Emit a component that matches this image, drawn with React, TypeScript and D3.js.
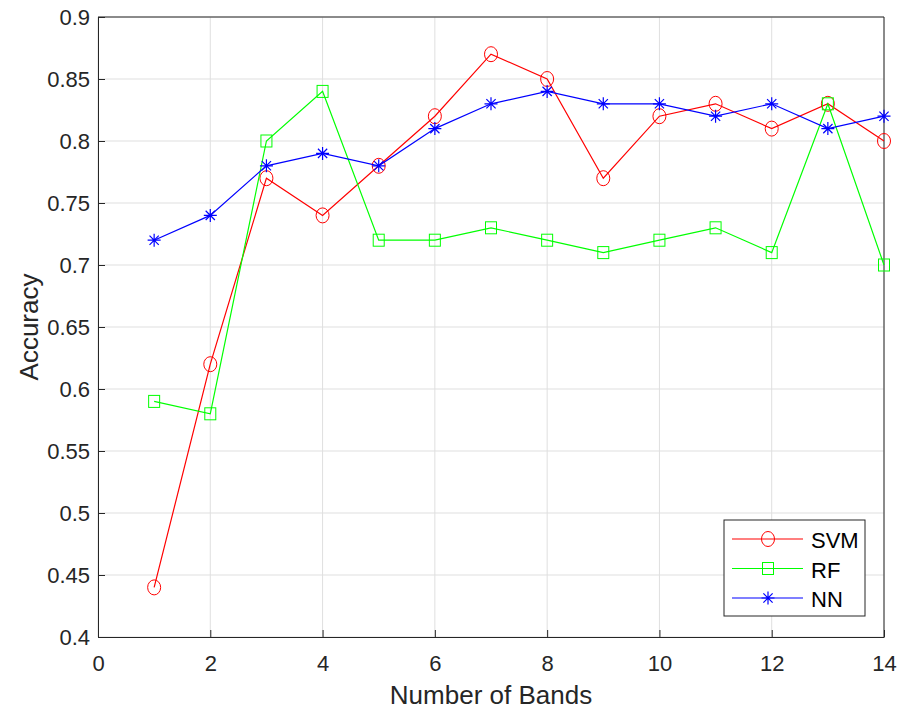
import React, { useRef, useEffect } from 'react';
import * as d3 from 'd3';

const bands = [1, 2, 3, 4, 5, 6, 7, 8, 9, 10, 11, 12, 13, 14];
const svmAcc = [0.44, 0.62, 0.77, 0.74, 0.78, 0.82, 0.87, 0.85, 0.77, 0.82, 0.83, 0.81, 0.83, 0.80];
const rfAcc = [0.59, 0.58, 0.80, 0.84, 0.72, 0.72, 0.73, 0.72, 0.71, 0.72, 0.73, 0.71, 0.83, 0.70];
const nnAcc = [0.72, 0.74, 0.78, 0.79, 0.78, 0.81, 0.83, 0.84, 0.83, 0.83, 0.82, 0.83, 0.81, 0.82];
const xTicks = [0, 2, 4, 6, 8, 10, 12, 14];
const yTicks = [0.4, 0.45, 0.5, 0.55, 0.6, 0.65, 0.7, 0.75, 0.8, 0.85, 0.9];

const series = [
  { name: 'SVM', values: svmAcc, color: '#ff0000', marker: 'circle' },
  { name: 'RF', values: rfAcc, color: '#00ff00', marker: 'square' },
  { name: 'NN', values: nnAcc, color: '#0000ff', marker: 'star' },
];

const W = 899;
const H = 709;
const font = '"Liberation Sans", Arial, sans-serif';

const drawMarker = (g, type, x, y, color) => {
  if (type === 'circle') {
    g.append('ellipse').attr('cx', x).attr('cy', y).attr('rx', 6.5).attr('ry', 7.5)
      .attr('fill', 'none').attr('stroke', color).attr('stroke-width', 1);
  } else if (type === 'square') {
    g.append('rect').attr('x', x - 5.5).attr('y', y - 6).attr('width', 11).attr('height', 12)
      .attr('fill', 'none').attr('stroke', color).attr('stroke-width', 1);
  } else {
    const s = 6.5;
    const d = s * 0.71;
    const p = `M${x - s},${y}L${x + s},${y}M${x},${y - s}L${x},${y + s}` +
      `M${x - d},${y - d}L${x + d},${y + d}M${x - d},${y + d}L${x + d},${y - d}`;
    g.append('path').attr('d', p).attr('stroke', color).attr('stroke-width', 1.2).attr('fill', 'none');
  }
};

const App = () => {
  const svgRef = useRef(null);

  useEffect(() => {
    const svg = d3.select(svgRef.current);
    svg.selectAll('*').remove();

    const margin = { top: 17, right: 15, bottom: 72, left: 98 };
    const innerW = W - margin.left - margin.right;
    const innerH = H - margin.top - margin.bottom;

    const x = d3.scaleLinear().domain([0, 14]).range([margin.left, margin.left + innerW]);
    const y = d3.scaleLinear().domain([0.4, 0.9]).range([margin.top + innerH, margin.top]);

    svg.append('rect').attr('width', W).attr('height', H).attr('fill', '#fff');

    // grid
    const grid = svg.append('g');
    xTicks.forEach((t) => {
      grid.append('line').attr('x1', x(t)).attr('x2', x(t))
        .attr('y1', y(0.4)).attr('y2', y(0.9)).attr('stroke', '#dfdfdf').attr('stroke-width', 1);
    });
    yTicks.forEach((t) => {
      grid.append('line').attr('x1', x(0)).attr('x2', x(14))
        .attr('y1', y(t)).attr('y2', y(t)).attr('stroke', '#dfdfdf').attr('stroke-width', 1);
    });

    // axes
    const axisColor = '#262626';
    const xAxis = svg.append('g').attr('transform', `translate(0,${y(0.4)})`)
      .call(d3.axisBottom(x).tickValues(xTicks).tickSizeInner(-7).tickSizeOuter(0).tickPadding(18));
    const yAxis = svg.append('g').attr('transform', `translate(${x(0)},0)`)
      .call(d3.axisLeft(y).tickValues(yTicks).tickFormat((d) => String(+d.toFixed(2)))
        .tickSizeInner(-7).tickSizeOuter(0).tickPadding(8));
    [xAxis, yAxis].forEach((a) => {
      a.select('.domain').attr('stroke', axisColor).attr('stroke-width', 1);
      a.selectAll('.tick line').attr('stroke', axisColor);
      a.selectAll('.tick text').attr('fill', axisColor).attr('font-family', font).attr('font-size', 22);
    });
    // top and right box lines
    svg.append('line').attr('x1', x(0)).attr('x2', x(14)).attr('y1', y(0.9)).attr('y2', y(0.9))
      .attr('stroke', axisColor);
    svg.append('line').attr('x1', x(14)).attr('x2', x(14)).attr('y1', y(0.9)).attr('y2', y(0.4))
      .attr('stroke', axisColor);

    // labels
    svg.append('text').attr('x', (x(0) + x(14)) / 2).attr('y', 704).attr('text-anchor', 'middle')
      .attr('font-family', font).attr('font-size', 26).attr('fill', axisColor).text('Number of Bands');
    svg.append('text').attr('transform', `translate(38,${(y(0.4) + y(0.9)) / 2}) rotate(-90)`)
      .attr('text-anchor', 'middle').attr('font-family', font).attr('font-size', 26)
      .attr('fill', axisColor).text('Accuracy');

    // lines
    const line = d3.line().x((d, i) => x(bands[i])).y((d) => y(d));
    series.forEach((s) => {
      svg.append('path').datum(s.values).attr('d', line).attr('fill', 'none')
        .attr('stroke', s.color).attr('stroke-width', 1.2);
      const mg = svg.append('g');
      s.values.forEach((v, i) => drawMarker(mg, s.marker, x(bands[i]), y(v), s.color));
    });

    // legend
    const lg = svg.append('g').attr('transform', 'translate(724,520)');
    lg.append('rect').attr('width', 141).attr('height', 96).attr('fill', '#fff')
      .attr('stroke', '#262626').attr('stroke-width', 1);
    series.forEach((s, i) => {
      const cy = 19 + i * 29.5;
      lg.append('line').attr('x1', 8).attr('x2', 79).attr('y1', cy).attr('y2', cy)
        .attr('stroke', s.color).attr('stroke-width', 1.2);
      drawMarker(lg, s.marker, 44, cy, s.color);
      lg.append('text').attr('x', 87).attr('y', cy + 9).attr('font-family', font)
        .attr('font-size', 22).attr('fill', '#000').text(s.name);
    });
  }, []);

  return (
    <svg ref={svgRef} width={W} height={H}
      style={{ position: 'absolute', left: 0, top: 0, display: 'block' }} />
  );
};

export default App;
